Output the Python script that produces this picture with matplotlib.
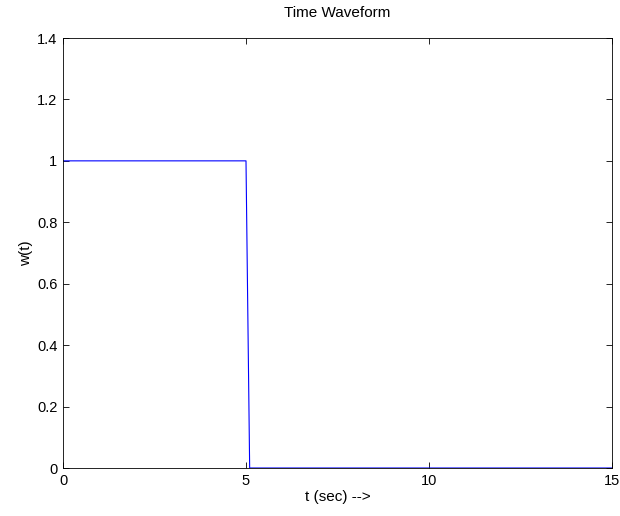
import matplotlib
matplotlib.use("Agg")
import matplotlib.pyplot as plt

t = [0, 5, 5.1, 15]
w = [1, 1, 0, 0]
xticks = [0, 5, 10, 15]
yticks = [0, 0.2, 0.4, 0.6, 0.8, 1, 1.2, 1.4]
ylabels = ['0', '0.2', '0.4', '0.6', '0.8', '1', '1.2', '1.4']

plt.rcParams['font.family'] = ['Liberation Sans', 'DejaVu Sans']
plt.rcParams['font.size'] = 10.5

fig = plt.figure(figsize=(6.2, 5.16), dpi=100)
ax = fig.add_axes([63/620, 1 - 468/516, 549/620, 430/516])
ax.plot(t, w, color='#0000ff', linewidth=0.8)
ax.set_xlim(0, 15)
ax.set_ylim(0, 1.4)
ax.set_xticks(xticks)
ax.set_yticks(yticks)
ax.set_yticklabels(ylabels)
ax.tick_params(direction='in', top=True, right=True, length=4, width=0.6, pad=4)
for s in ax.spines.values():
    s.set_linewidth(0.6)
ax.set_title('Time Waveform', fontsize=11, pad=15)
ax.set_xlabel('t (sec) -->', fontsize=11, labelpad=2)
ax.set_ylabel('w(t)', fontsize=11, labelpad=3)
fig.savefig('out.png', dpi=100)
